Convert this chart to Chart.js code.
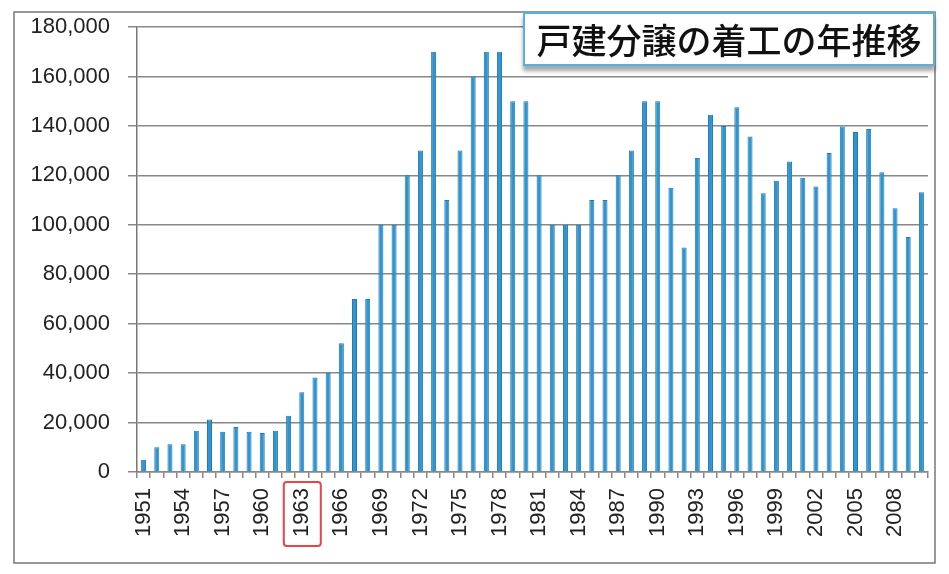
<!DOCTYPE html>
<html>
<head>
<meta charset="utf-8">
<script src="https://cdn.jsdelivr.net/npm/chart.js@4.4.1/dist/chart.umd.min.js"></script>
<style>
  html, body { margin: 0; padding: 0; background: #fff; }
  #wrap { position: relative; width: 949px; height: 574px; }
  #title {
    position: absolute; left: 523px; top: 12px; width: 408px; height: 50px;
    border: 2px solid #5aafdf; background: #fff;
    box-shadow: 0 5px 4px rgba(0,0,0,0.35);
    font-family: "Noto Sans CJK JP", sans-serif; font-weight: 500; font-size: 35px;
    line-height: 50px; text-align: center; color: #111;
  }
</style>
</head>
<body>
<div id="wrap">
  <canvas id="chart" width="949" height="574"></canvas>
  <div id="title">戸建分譲の着工の年推移</div>
</div>
<script>
// 年（1951〜2010）
const years = [];
for (let y = 1951; y <= 2010; y++) years.push(String(y));

// 戸建分譲の着工戸数
const starts = [
    5000, 10000, 11200, 11200, 16700, 21200, 16300, 18200, 16300, 15800,
    16700, 22800, 32300, 38200, 40100, 52100, 70000, 70000, 100000, 100000,
    120000, 130000, 170000, 110000, 130000, 160000, 170000, 170000, 150000, 150000,
    120000, 100000, 100000, 100000, 110000, 110000, 120000, 130000, 150000, 150000,
    115000, 90800, 127000, 144500, 140000, 147500, 135700, 112800, 117800, 125600,
    119000, 115500, 129000, 139800, 137500, 138700, 121200, 106700, 95100, 113200
];

// 目盛り
const yMax = 180000;
const yStep = 20000;
const labelEvery = 3;
const markedYear = '1963';

const fontFamily = '"Liberation Sans", Arial, sans-serif';

// 外枠と1963年の赤枠
const framePlugin = {
    id: 'frame',
    beforeDraw(chart) {
        const ctx = chart.ctx;
        ctx.save();
        ctx.fillStyle = '#fff';
        ctx.fillRect(0, 0, chart.width, chart.height);
        ctx.strokeStyle = '#777';
        ctx.lineWidth = 1.5;
        ctx.strokeRect(14, 12, 921, 551);
        ctx.restore();
    },
    afterDraw(chart) {
        const ctx = chart.ctx;
        const x = chart.scales.x.getPixelForValue(years.indexOf(markedYear));
        ctx.save();
        ctx.strokeStyle = '#e8454a';
        ctx.lineWidth = 2;
        ctx.beginPath();
        ctx.roundRect(x - 18, 482, 37, 64, 3);
        ctx.stroke();
        ctx.restore();
    }
};

const ctx = document.getElementById('chart').getContext('2d');
const chart = new Chart(ctx, {
    type: 'bar',
    data: {
        labels: years,
        datasets: [{
            data: starts,
            backgroundColor: '#2f95d0',
            borderColor: '#2379b3',
            borderWidth: 1,
            barPercentage: 0.38,
            categoryPercentage: 1.0
        }]
    },
    options: {
        responsive: false,
        animation: false,
        layout: { padding: { left: 0, top: 27, right: 21, bottom: 0 } },
        plugins: {
            legend: { display: false },
            title: { display: false },
            tooltip: { enabled: false }
        },
        scales: {
            x: {
                offset: true,
                grid: {
                    offset: true,
                    drawOnChartArea: false,
                    drawTicks: true,
                    tickLength: 6,
                    color: '#888',
                    lineWidth: 1.5
                },
                border: { color: '#888', width: 1.5 },
                ticks: {
                    autoSkip: false,
                    minRotation: 90,
                    maxRotation: 90,
                    padding: 10,
                    color: '#222',
                    font: { family: fontFamily, size: 22 },
                    callback: function (value, index) {
                        return index % labelEvery === 0 ? years[index] : '';
                    }
                },
                afterFit(scale) {
                    scale.height = 102;
                    scale.paddingLeft = 0;
                    scale.paddingRight = 0;
                }
            },
            y: {
                min: 0,
                max: yMax,
                grid: {
                    color: '#888',
                    lineWidth: 1.5,
                    tickLength: 9
                },
                border: { color: '#777', width: 1.5 },
                ticks: {
                    stepSize: yStep,
                    padding: 18,
                    color: '#222',
                    font: { family: fontFamily, size: 22 },
                    callback: v => v.toLocaleString('en-US')
                },
                afterFit(scale) {
                    scale.width = 137;
                    scale.paddingTop = 0;
                    scale.paddingBottom = 0;
                }
            }
        }
    },
    plugins: [framePlugin]
});
</script>
</body>
</html>
